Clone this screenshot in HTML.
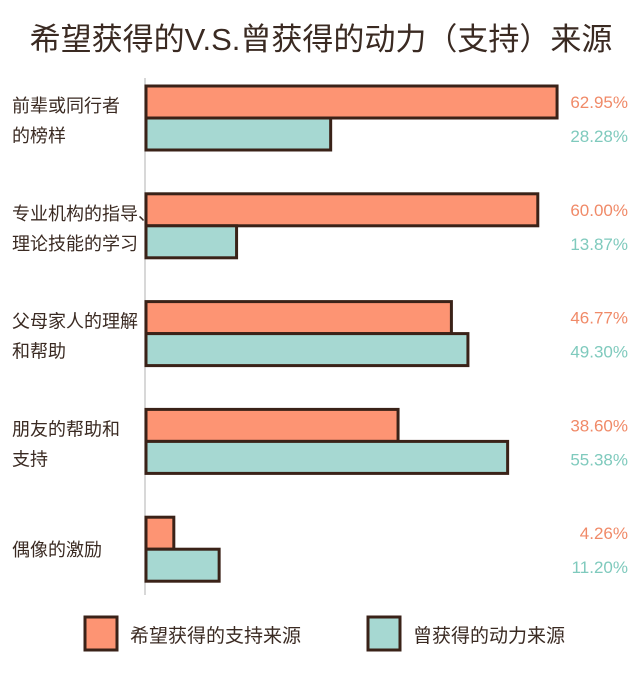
<!DOCTYPE html>
<html><head><meta charset="utf-8"><style>
body{margin:0;background:#fff;}
svg text{font-family:"Liberation Sans","Noto Sans CJK SC",sans-serif;}
</style></head><body>
<svg id="chart" width="643" height="670">
<text x="321" y="50" text-anchor="middle" font-size="31" fill="#3a2a22">希望获得的V.S.曾获得的动力（支持）来源</text>
<line x1="145" y1="78" x2="145" y2="595" stroke="#ccc" stroke-width="1.5"/>
<g id="bars"></g>
<rect x="85" y="617" width="32" height="33" fill="#fd9473" stroke="#3a2218" stroke-width="3"/>
<text x="130" y="642" font-size="19" fill="#3a2a22">希望获得的支持来源</text>
<rect x="368" y="617" width="32" height="33" fill="#a6d8d2" stroke="#3a2218" stroke-width="3"/>
<text x="413" y="642" font-size="19" fill="#3a2a22">曾获得的动力来源</text>
</svg>
<script>
const categories=[["前辈或同行者","的榜样"],["专业机构的指导、","理论技能的学习"],["父母家人的理解","和帮助"],["朋友的帮助和","支持"],["偶像的激励"]];
const hoped=[62.95,60.00,46.77,38.60,4.26];
const received=[28.28,13.87,49.30,55.38,11.20];
const NS="http://www.w3.org/2000/svg";
const g=document.getElementById('bars');
const x0=146, pxPer=6.53;
const xs=v=>v*pxPer;
const groupY=i=>86+i*107.8;
const bh=32;
function mk(tag,attrs){const e=document.createElementNS(NS,tag);for(const k in attrs)e.setAttribute(k,attrs[k]);g.appendChild(e);return e;}
categories.forEach((c,i)=>{
  const y=groupY(i);
  const r1=mk('rect',{x:x0,y:y,width:xs(hoped[i]),height:bh,fill:'#fd9473',stroke:'#3a2218','stroke-width':3});
  
  
  const r2=mk('rect',{x:x0,y:y+bh,width:xs(received[i]),height:bh,fill:'#a6d8d2',stroke:'#3a2218','stroke-width':3});
  
  
  const cy=y+bh;
  c.forEach((line,j)=>{
    const t=mk('text',{x:12,y:(c.length===1?cy+7:cy-6+j*30),'font-size':18,fill:'#3a2a22'});
    t.textContent=line;
    
    
  });
  const v1=mk('text',{x:628,y:y+22,'font-size':17,fill:'#f08a68','text-anchor':'end'});
  v1.textContent=hoped[i].toFixed(2)+'%';
  
  
  const v2=mk('text',{x:628,y:y+bh+24,'font-size':17,fill:'#7fcabd','text-anchor':'end'});
  v2.textContent=received[i].toFixed(2)+'%';
  
  
});
</script>
</body></html>
